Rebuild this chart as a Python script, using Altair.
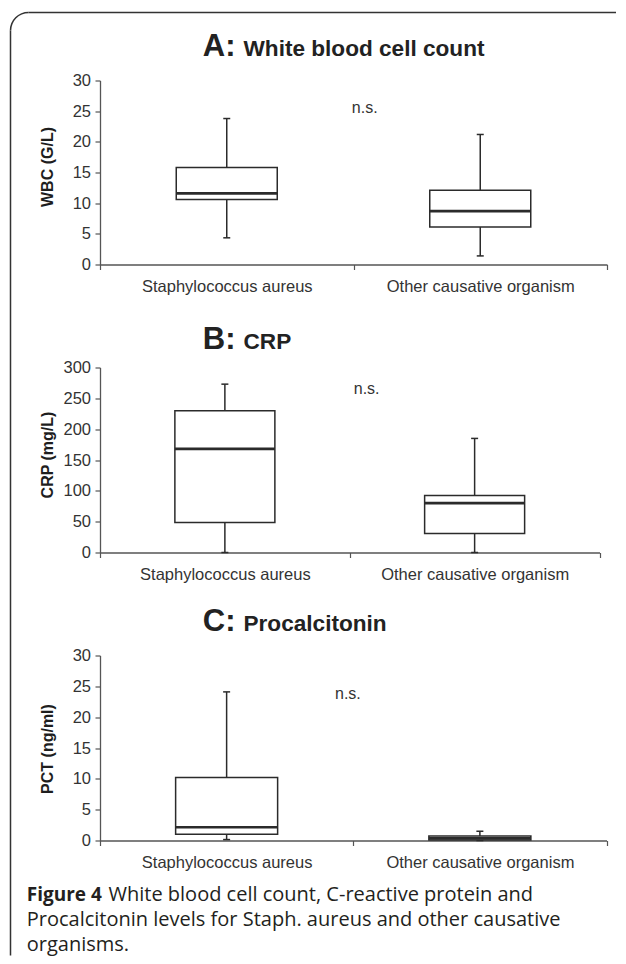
import altair as alt
import pandas as pd

categories = ["Staphylococcus aureus", "Other causative organism"]

# Panel A: white blood cell count (G/L)
wbc_min = [4.35, 1.4]
wbc_q1 = [10.6, 6.1]
wbc_med = [11.6, 8.7]
wbc_q3 = [15.8, 12.1]
wbc_max = [23.8, 21.2]

# Panel B: CRP (mg/L)
crp_min = [0, 0]
crp_q1 = [48.5, 31]
crp_med = [168, 80]
crp_q3 = [230, 92.5]
crp_max = [273, 185]

# Panel C: procalcitonin (ng/ml)
pct_min = [0.15, 0.0]
pct_q1 = [1.0, 0.1]
pct_med = [2.15, 0.35]
pct_q3 = [10.2, 0.75]
pct_max = [24.1, 1.5]

panel_letters = ["A:", "B:", "C:"]
panel_names = ["White blood cell count", "CRP", "Procalcitonin"]
y_titles = ["WBC (G/L)", "CRP (mg/L)", "PCT (ng/ml)"]
y_domains = [[0, 30], [0, 300], [0, 30]]
y_ticks = [[0, 5, 10, 15, 20, 25, 30], [0, 50, 100, 150, 200, 250, 300], [0, 5, 10, 15, 20, 25, 30]]
ns_text = "n.s."
ns_values = [24.7, 257, 22.9]

caption_bold = "Figure 4"
caption_line1 = "White blood cell count, C-reactive protein and"
caption_rest = ["Procalcitonin levels for Staph. aureus and other causative", "organisms."]

STROKE = "#2b2b2b"
AXIS = "#555555"
TEXT = "#333333"
FONT = "Liberation Sans"
CAPFONT = "Open Sans"


def panel(i, mins, q1s, meds, q3s, maxs, box_w, title_y, ns_dx, ytitle_y):
    df = pd.DataFrame({"cat": categories, "lo": mins, "q1": q1s, "med": meds, "q3": q3s, "hi": maxs})
    xscale = alt.Scale(domain=categories, paddingInner=0, paddingOuter=0)
    yscale = alt.Scale(domain=y_domains[i], nice=False, zero=True)
    xaxis = alt.Axis(title=None, tickBand="extent", labelAngle=0, labelFontSize=16.5,
                     labelColor=TEXT, labelPadding=9, tickSize=5, tickColor=AXIS,
                     domainColor=AXIS, domainWidth=1.3, tickWidth=1.2, labelFont=FONT,
                     labelLimit=400)
    yaxis = alt.Axis(values=y_ticks[i], title=y_titles[i], grid=False, labelFontSize=16.5,
                     labelColor=TEXT, labelPadding=4.5, tickSize=5, tickColor=AXIS,
                     domainColor=AXIS, domainWidth=1.3, tickWidth=1.2, labelFont=FONT,
                     labelOverlap=False,
                     titleFont=FONT, titleFontSize=16, titleFontWeight="bold", titleColor="#1e1e1e",
                     titleAngle=270, titleX=-47.3, titleY=ytitle_y, titleAlign="center",
                     titleBaseline="alphabetic")

    def X():
        return alt.X("cat:N", sort=categories, scale=xscale, axis=xaxis)

    def Y(f):
        return alt.Y(f, type="quantitative", scale=yscale, axis=yaxis)

    whisker = alt.Chart(df).mark_rule(color=STROKE, strokeWidth=1.5).encode(
        x=X(), y=Y("lo"), y2="hi:Q")
    cap_lo = alt.Chart(df).mark_tick(size=7, thickness=1.5, color=STROKE, opacity=1).encode(
        x=X(), y=Y("lo"))
    cap_hi = alt.Chart(df).mark_tick(size=7, thickness=1.5, color=STROKE, opacity=1).encode(
        x=X(), y=Y("hi"))
    box = alt.Chart(df).mark_bar(size=box_w, fill="white", stroke=STROKE, strokeWidth=1.5, opacity=1).encode(
        x=X(), y=Y("q1"), y2="q3:Q")
    med = alt.Chart(df).mark_tick(size=box_w, thickness=2.6, color=STROKE, opacity=1).encode(
        x=X(), y=Y("med"))

    ns_df = pd.DataFrame({"cat": [categories[1]], "v": [ns_values[i]], "t": [ns_text]})
    ns = alt.Chart(ns_df).mark_text(dx=ns_dx, align="center", baseline="alphabetic", fontSize=16,
                                    font=FONT, color=TEXT).encode(
        x=X(), y=Y("v"), text="t:N")

    tdf = pd.DataFrame({"big": [panel_letters[i]], "name": [panel_names[i]]})
    t_big = alt.Chart(tdf).mark_text(align="left", baseline="alphabetic", fontSize=31, fontWeight="bold",
                                     font=FONT, color="#222222").encode(
        x=alt.value(102.75), y=alt.value(title_y), text="big:N")
    t_name = alt.Chart(tdf).mark_text(align="left", baseline="alphabetic", fontSize=22.6, fontWeight="bold",
                                      font=FONT, color="#222222").encode(
        x=alt.value(143.5), y=alt.value(title_y), text="name:N")
    return [whisker, cap_lo, cap_hi, box, med, ns, t_big, t_name]


A = panel(0, wbc_min, wbc_q1, wbc_med, wbc_q3, wbc_max, 101, -25, -115.5, 86)
B = panel(1, crp_min, crp_q1, crp_med, crp_q3, crp_max, 100, -18.3, -108, 87)
C = panel(2, pct_min, pct_q1, pct_med, pct_q3, pct_max, 102, -24.5, -132, 93)

# figure frame (top-left rounded corner of the figure box)
one = pd.DataFrame({"k": [0]})
frame_left = alt.Chart(one).mark_rule(color="#333333", strokeWidth=1.5).encode(
    x=alt.value(-89.5), y=alt.value(-50), y2=alt.value(875))
frame_top = alt.Chart(one).mark_rule(color="#333333", strokeWidth=1.5).encode(
    x=alt.value(-71.5), x2=alt.value(516), y=alt.value(-68))
frame_corner = alt.Chart(one).mark_arc(x=-71.5, y=-50, theta=4.712389, theta2=6.283185,
                                       radius=18.75, radius2=17.25).encode(color=alt.value("#333333"))
A = A + [frame_left, frame_top, frame_corner]

# caption
cdf = pd.DataFrame({"b": [caption_bold], "l1": [caption_line1]})
cap_b = alt.Chart(cdf).mark_text(align="left", baseline="alphabetic", fontSize=19, fontWeight="bold",
                                 font=CAPFONT, color="#231f20").encode(
    x=alt.value(-73.25), y=alt.value(245), text="b:N")
cap_1 = alt.Chart(cdf).mark_text(align="left", baseline="alphabetic", fontSize=20,
                                 font=CAPFONT, color="#231f20").encode(
    x=alt.value(8.5), y=alt.value(245), text="l1:N")
cap_rest = alt.Chart(one).mark_text(align="left", baseline="alphabetic", fontSize=20,
                                    font=CAPFONT, color="#231f20", lineHeight=24.5).encode(
    x=alt.value(-73.25), y=alt.value(270.5), text=alt.value(caption_rest))
C = C + [cap_b, cap_1, cap_rest]

chartA = alt.layer(*A).properties(width=507, height=184)
chartB = alt.layer(*B).properties(width=499.5, height=185)
chartC = alt.layer(*C).properties(width=506.5, height=185)

chart = alt.vconcat(chartA, chartB, chartC, spacing=103, bounds="flush").properties(
    padding={"left": 1, "top": 3.5, "right": 0, "bottom": 0}
).configure(font=FONT).configure_view(stroke="transparent", strokeWidth=0)

chart.save("out.html", embed_options={"renderer": "svg", "actions": False})
